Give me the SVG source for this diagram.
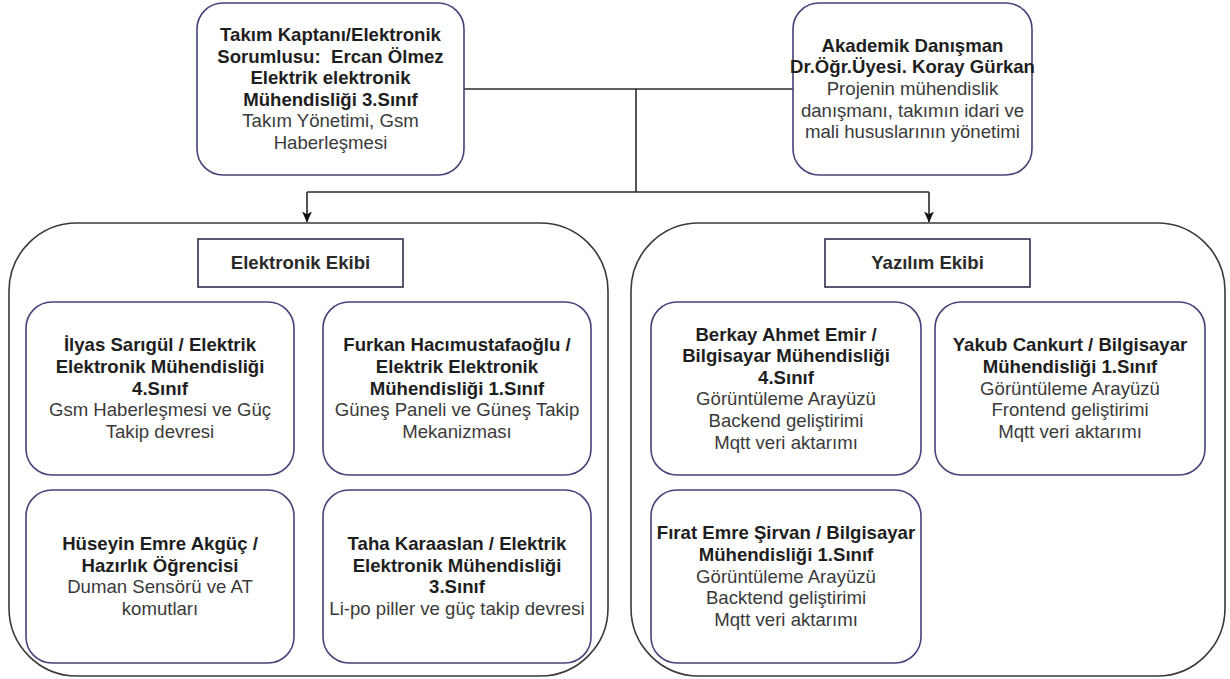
<svg xmlns="http://www.w3.org/2000/svg" width="1230" height="679" viewBox="0 0 1230 679">
<style>
.box{fill:#fff;stroke:#43437a;stroke-width:1.6}
.cont{fill:#fff;stroke:#3a3a3a;stroke-width:1.6}
.hdr{fill:#fff;stroke:#2e2e4e;stroke-width:1.6}
.ln{fill:none;stroke:#2a2a2a;stroke-width:1.6}
text{font-family:"Liberation Sans",Arial,sans-serif;font-size:18.6px;text-anchor:middle}
.b{font-weight:bold;fill:#1e1e1e}
.r{fill:#3a3a3a}
.h{font-weight:bold;fill:#2a2a2a}
</style>
<defs>
<marker id="arr" viewBox="0 0 10 10" refX="9.5" refY="5" markerWidth="11" markerHeight="11" markerUnits="userSpaceOnUse" orient="auto">
<path d="M0,0.5 L10,5 L0,9.5 L2.5,5 Z" fill="#111"/>
</marker>
</defs>
<rect width="1230" height="679" fill="#fff"/>
<g id="connectors">
<path class="ln" d="M464,89 H793"/>
<path class="ln" d="M636,89 V192"/>
<path class="ln" d="M307,192 H929"/>
<path class="ln" d="M307,192 V222" marker-end="url(#arr)"/>
<path class="ln" d="M929,192 V222" marker-end="url(#arr)"/>
</g>
<g id="captain">
<rect class="box" x="197" y="3" width="267" height="172" rx="26"/>
<text x="330.5" y="41" class="b">Takım Kaptanı/Elektronik</text>
<text x="330.5" y="62.6" class="b" style="white-space:pre">Sorumlusu:  Ercan Ölmez</text>
<text x="330.5" y="84.2" class="b">Elektrik elektronik</text>
<text x="330.5" y="105.8" class="b">Mühendisliği 3.Sınıf</text>
<text x="330.5" y="127.4" class="r">Takım Yönetimi, Gsm</text>
<text x="330.5" y="149" class="r">Haberleşmesi</text>
</g>
<g id="advisor">
<rect class="box" x="793" y="3" width="239" height="172" rx="26"/>
<text x="912.5" y="51.8" class="b">Akademik Danışman</text>
<text x="912.5" y="73.4" class="b">Dr.Öğr.Üyesi. Koray Gürkan</text>
<text x="912.5" y="95" class="r">Projenin mühendislik</text>
<text x="912.5" y="116.6" class="r">danışmanı, takımın idari ve</text>
<text x="912.5" y="138.2" class="r">mali hususlarının yönetimi</text>
</g>
<g id="elektronik-ekibi">
<rect class="cont" x="9" y="223" width="599" height="453" rx="68"/>
<rect class="hdr" x="198" y="239" width="205" height="48"/>
<text x="300.5" y="269" class="h">Elektronik Ekibi</text>
</g>
<g id="yazilim-ekibi">
<rect class="cont" x="631" y="223" width="594" height="453" rx="68"/>
<rect class="hdr" x="825" y="239" width="205" height="48"/>
<text x="927.5" y="269" class="h">Yazılım Ekibi</text>
</g>
<g id="ilyas">
<rect class="box" x="26" y="302" width="268" height="173" rx="26"/>
<text x="160" y="351.3" class="b">İlyas Sarıgül / Elektrik</text>
<text x="160" y="372.9" class="b">Elektronik Mühendisliği</text>
<text x="160" y="394.5" class="b">4.Sınıf</text>
<text x="160" y="416.1" class="r">Gsm Haberleşmesi ve Güç</text>
<text x="160" y="437.7" class="r">Takip devresi</text>
</g>
<g id="furkan">
<rect class="box" x="323" y="302" width="268" height="173" rx="26"/>
<text x="457" y="351.3" class="b">Furkan Hacımustafaoğlu /</text>
<text x="457" y="372.9" class="b">Elektrik Elektronik</text>
<text x="457" y="394.5" class="b">Mühendisliği 1.Sınıf</text>
<text x="457" y="416.1" class="r">Güneş Paneli ve Güneş Takip</text>
<text x="457" y="437.7" class="r">Mekanizması</text>
</g>
<g id="huseyin">
<rect class="box" x="26" y="490" width="268" height="173" rx="26"/>
<text x="160" y="550.1" class="b">Hüseyin Emre Akgüç /</text>
<text x="160" y="571.7" class="b">Hazırlık Öğrencisi</text>
<text x="160" y="593.3" class="r">Duman Sensörü ve AT</text>
<text x="160" y="614.9" class="r">komutları</text>
</g>
<g id="taha">
<rect class="box" x="323" y="490" width="268" height="173" rx="26"/>
<text x="457" y="550.1" class="b">Taha Karaaslan / Elektrik</text>
<text x="457" y="571.7" class="b">Elektronik Mühendisliği</text>
<text x="457" y="593.3" class="b">3.Sınıf</text>
<text x="457" y="614.9" class="r">Li-po piller ve güç takip devresi</text>
</g>
<g id="berkay">
<rect class="box" x="651" y="302" width="270" height="173" rx="26"/>
<text x="786" y="340.5" class="b">Berkay Ahmet Emir /</text>
<text x="786" y="362.1" class="b">Bilgisayar Mühendisliği</text>
<text x="786" y="383.7" class="b">4.Sınıf</text>
<text x="786" y="405.3" class="r">Görüntüleme Arayüzü</text>
<text x="786" y="426.9" class="r">Backend geliştirimi</text>
<text x="786" y="448.5" class="r">Mqtt veri aktarımı</text>
</g>
<g id="yakub">
<rect class="box" x="935" y="302" width="270" height="173" rx="26"/>
<text x="1070" y="351.3" class="b">Yakub Cankurt / Bilgisayar</text>
<text x="1070" y="372.9" class="b">Mühendisliği 1.Sınıf</text>
<text x="1070" y="394.5" class="r">Görüntüleme Arayüzü</text>
<text x="1070" y="416.1" class="r">Frontend geliştirimi</text>
<text x="1070" y="437.7" class="r">Mqtt veri aktarımı</text>
</g>
<g id="firat">
<rect class="box" x="651" y="490" width="270" height="173" rx="26"/>
<text x="786" y="539.3" class="b">Fırat Emre Şirvan / Bilgisayar</text>
<text x="786" y="560.9" class="b">Mühendisliği 1.Sınıf</text>
<text x="786" y="582.5" class="r">Görüntüleme Arayüzü</text>
<text x="786" y="604.1" class="r">Backtend geliştirimi</text>
<text x="786" y="625.7" class="r">Mqtt veri aktarımı</text>
</g>
</svg>
